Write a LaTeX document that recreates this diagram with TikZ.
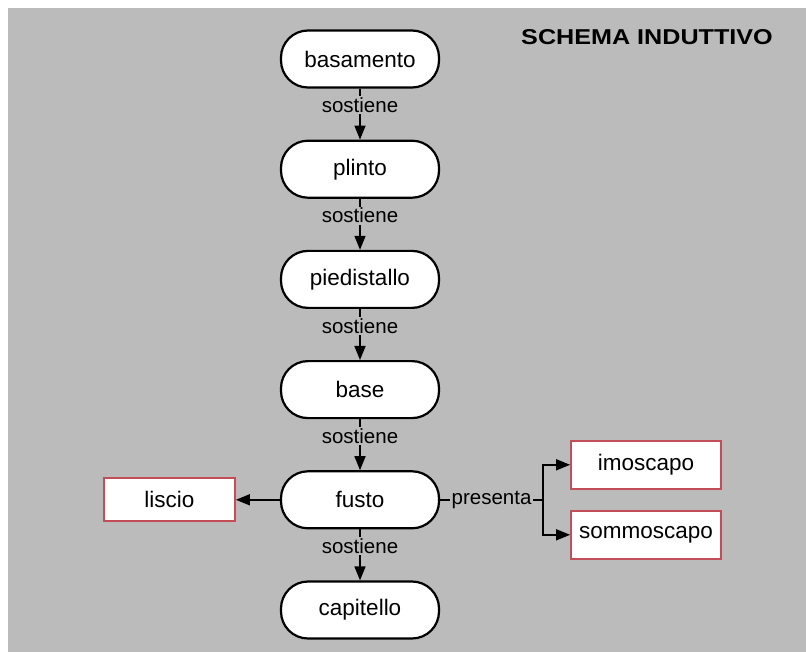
\documentclass[tikz,border=0pt]{standalone}
\usepackage{fontspec}
\setmainfont{Liberation Sans}
\usetikzlibrary{positioning, arrows.meta, calc}

\definecolor{bggray}{RGB}{187,187,187}
\definecolor{boxred}{RGB}{196,78,88}

\begin{document}
\begin{tikzpicture}[
    x=1pt, y=1pt,
    node distance=51pt and 44pt,
    part/.style={draw, line width=2.2pt, fill=white, rectangle, rounded corners=27pt, minimum width=158pt, minimum height=57pt, font=\fontsize{22.5}{26}\selectfont},
    feature/.style={draw=boxred, line width=1.8pt, fill=white, rectangle, minimum width=150pt, minimum height=48pt, font=\fontsize{22.5}{26}\selectfont},
    lbl/.style={fill=bggray, inner sep=1.5pt, font=\fontsize{20.5}{24}\selectfont},
    arrow/.style={-{Triangle[length=14pt, width=11pt]}, line width=1.6pt},
    link/.style={line width=1.6pt},
]

% Background
\useasboundingbox (0,0) rectangle (806,-652);
\fill[bggray] (8,-8) rectangle (806,-652);

% Title
\node[font=\fontsize{21.5}{25}\selectfont\bfseries] (title) at (647,-37) {\scalebox{1.17}[1]{SCHEMA INDUTTIVO}};

% Column parts
\node[part] (basamento) at (360,-59) {basamento};
\node[part, below=of basamento] (plinto) {plinto};
\node[part, below=of plinto] (piedistallo) {piedistallo};
\node[part, below=of piedistallo] (base) {base};
\node[part, below=of base] (fusto) {fusto};
\node[part, below=of fusto] (capitello) {capitello};

% Features of the shaft
\node[feature, minimum width=131pt, minimum height=43pt, left=44pt of fusto] (liscio) {liscio};
\node[feature, right=130pt of fusto, yshift=35pt] (imoscapo) {imoscapo};
\node[feature, right=130pt of fusto, yshift=-35pt] (sommoscapo) {sommoscapo};
\coordinate[right=103pt of fusto.east] (split);

% Connections
\foreach \a/\b in {basamento/plinto, plinto/piedistallo, piedistallo/base, base/fusto, fusto/capitello}
    \draw[arrow] (\a) -- node[lbl, pos=0.33] {sostiene} (\b);

\draw[arrow] (fusto) -- (liscio);
\draw[link] (fusto) -- node[lbl] {presenta} (split);
\draw[arrow] (split) |- (imoscapo);
\draw[arrow] (split) |- (sommoscapo);

\end{tikzpicture}
\end{document}
